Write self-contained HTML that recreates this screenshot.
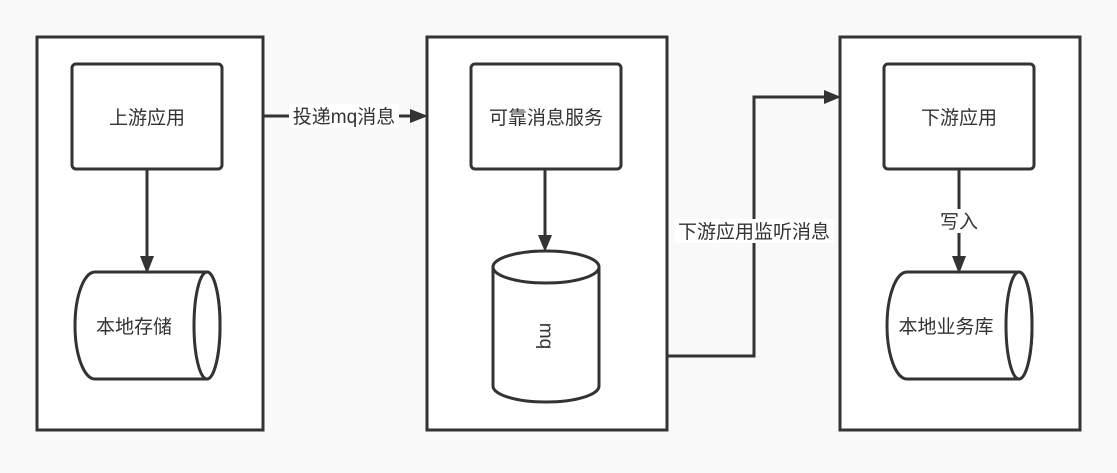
<!DOCTYPE html>
<html><head><meta charset="utf-8"><style>
body{margin:0;background:#f9f9f9;}
text{font-family:"Liberation Sans","Noto Sans CJK SC",sans-serif;font-size:19px;fill:#333;}
</style></head><body>
<svg width="1117" height="468" xmlns="http://www.w3.org/2000/svg">
<rect width="1117" height="468" fill="#f9f9f9"/>
<g fill="#fff" stroke="#333" stroke-width="3">
<rect x="37" y="37" width="226" height="393"/>
<rect x="427" y="37" width="240" height="393"/>
<rect x="840" y="37" width="240" height="393"/>
<rect x="72" y="64" width="150" height="105" rx="4"/>
<rect x="471" y="64" width="150" height="105" rx="4"/>
<rect x="884" y="64" width="150" height="105" rx="4"/>
<path d="M95,272 H207 A13,53.5 0 0 1 207,379 H95 A20,53.5 0 0 1 95,272 Z"/>
<ellipse cx="207" cy="325.5" rx="13" ry="53.5"/>
<path d="M907,272 H1019 A13,53.5 0 0 1 1019,379 H907 A20,53.5 0 0 1 907,272 Z"/>
<ellipse cx="1019" cy="325.5" rx="13" ry="53.5"/>
<path d="M493,267 V386 A53,16 0 0 0 599,386 V267 Z"/>
<ellipse cx="546" cy="267" rx="53" ry="16"/>
</g>
<g stroke="#333" stroke-width="3" fill="none">
<line x1="147" y1="169" x2="147" y2="258"/>
<line x1="545" y1="169" x2="545" y2="237"/>
<line x1="959" y1="169" x2="959" y2="258"/>
<line x1="263" y1="116" x2="412" y2="116"/>
<polyline points="667,356 754,356 754,97 826,97"/>
</g>
<g fill="#333">
<polygon points="140,256 154,256 147,274"/>
<polygon points="538,235 552,235 545,252"/>
<polygon points="952,256 966,256 959,274"/>
<polygon points="410,109 410,123 428,116"/>
<polygon points="824,90 824,104 841,97"/>
</g>
<rect x="289" y="104" width="110" height="24" fill="#fff"/>
<text x="344" y="123" text-anchor="middle">投递mq消息</text>
<rect x="675" y="219" width="159" height="24" fill="#fff"/>
<text x="754" y="238" text-anchor="middle">下游应用监听消息</text>
<rect x="940" y="209" width="38" height="24" fill="#fff"/>
<text x="959" y="228" text-anchor="middle">写入</text>
<text x="147" y="124" text-anchor="middle">上游应用</text>
<text x="546" y="124" text-anchor="middle">可靠消息服务</text>
<text x="959" y="124" text-anchor="middle">下游应用</text>
<text x="134" y="333" text-anchor="middle">本地存储</text>
<text x="946" y="333" text-anchor="middle">本地业务库</text>
<text x="0" y="0" text-anchor="middle" transform="translate(540,336) rotate(90)">mq</text>
</svg>
</body></html>
